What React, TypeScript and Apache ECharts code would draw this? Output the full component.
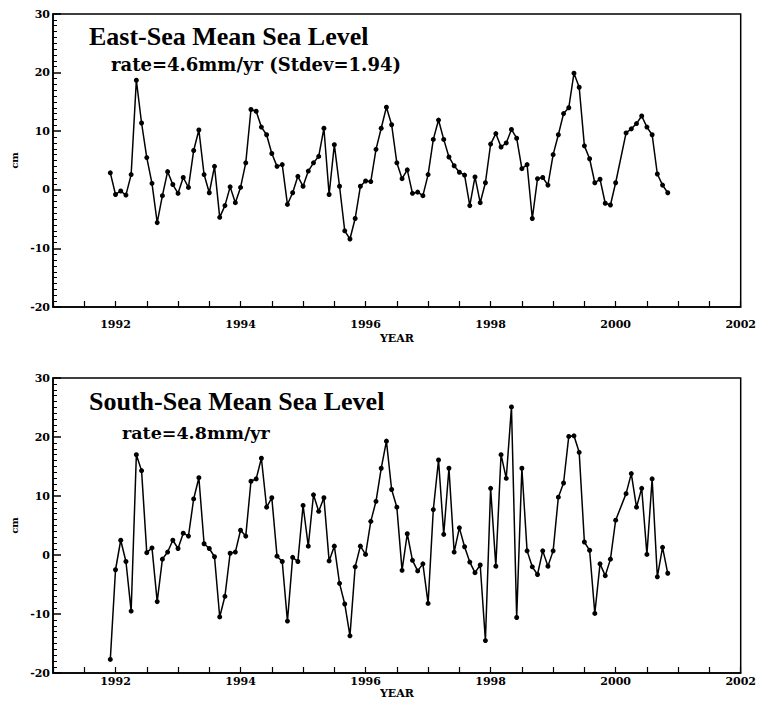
import React, { useEffect, useRef } from "react";
import * as echarts from "echarts";

// Monthly means, first month = Dec 1991; null = month with no data
const START_YEAR = 1991;
const START_MONTH = 11; // 0-based month index within START_YEAR (December)

const EAST_SEA: (number | null)[] = [
  2.9, -0.8, -0.2, -0.9, 2.6, 18.7, 11.4, 5.5, 1.1, -5.6,
  -1.0, 3.1, 0.9, -0.6, 2.1, 0.4, 6.7, 10.2, 2.6, -0.5,
  4.0, -4.7, -2.7, 0.5, -2.2, 0.4, 4.6,
  13.7, 13.4, 10.7, 9.4, 6.2, 4.0, 4.3, -2.5, -0.5, 2.3,
  0.6, 3.2, 4.6, 5.7, 10.5, -0.8, 7.7, 0.6, -7.0, -8.4,
  -4.9, 0.6, 1.5, 1.4, 6.9, 10.5, 14.1, 11.1,
  4.6, 1.9, 3.4, -0.6, -0.4, -1.0, 2.6, 8.6, 11.9, 8.6,
  5.6, 4.1, 3.0, 2.5, -2.7, 2.2, -2.2, 1.2, 7.8, 9.6,
  7.3, 8.0, 10.3, 8.8, 3.6, 4.3, -4.9,
  1.9, 2.1, 0.8, 6.0, 9.4, 13.0, 14.0, 19.9, 17.5, 7.5,
  5.3, 1.2, 1.8, -2.3, -2.6, 1.2, null, 9.7, 10.4, 11.3,
  12.6, 10.7, 9.4, 2.7, 0.8, -0.5,
];

const SOUTH_SEA: (number | null)[] = [
  -17.7, -2.5, 2.5, -1.1, -9.5, 17.0, 14.3, 0.4, 1.2, -7.9,
  -0.7, 0.5, 2.5, 1.1, 3.7, 3.2, 9.5, 13.1, 1.9, 1.1,
  -0.3, -10.5, -7.0, 0.3, 0.5, 4.2, 3.2, 12.5, 12.9, 16.4,
  8.1, 9.7, -0.2, -1.1, -11.2, -0.4, -1.1, 8.4, 1.5, 10.2,
  7.4, 9.7, -1.0, 1.5, -4.8, -8.3, -13.7, -2.0, 1.5, 0.1,
  5.7, 9.1, 14.7, 19.3, 11.1,
  8.1, -2.6, 3.6, -0.9, -2.7, -1.5, -8.2, 7.7, 16.1, 3.5,
  14.7, 0.5, 4.6, 1.4, -1.2, -3.0, -1.7, -14.5, 11.3, -1.9,
  17.0, 13.0, 25.1, -10.6, 14.7, 0.7, -2.0,
  -3.3, 0.7, -1.9, 0.7, 9.8, 12.2, 20.1, 20.2, 17.4, 2.2,
  0.8, -9.9, -1.5, -3.5, -0.7, 5.9, null, 10.4, 13.8, 8.1,
  11.3, 0.1, 12.9, -3.7, 1.3, -3.1,
];

const YEAR_TICKS = [1992, 1994, 1996, 1998, 2000, 2002];
const X_MIN = 1991;
const X_MAX = 2002;
const Y_MIN = -20;
const Y_MAX = 30;

const TITLES = [
  { main: "East-Sea Mean Sea Level", sub: "rate=4.6mm/yr (Stdev=1.94)" },
  { main: "South-Sea Mean Sea Level", sub: "rate=4.8mm/yr" },
];

// [time, value] pairs; months without data are skipped so the line joins across them
const toPairs = (vals: (number | null)[]) =>
  vals
    .map((v, i) => [START_YEAR + (START_MONTH + i) / 12, v] as [number, number | null])
    .filter((p) => p[1] !== null);

const NUM_FONT = "DejaVu Serif";

export default function App() {
  const ref = useRef<HTMLDivElement>(null);

  useEffect(() => {
    if (!ref.current) return;
    const chart = echarts.init(ref.current, null, { renderer: "svg" });

    const grids = [
      { left: 53, top: 14, width: 697, height: 293, show: true, borderColor: "#000", borderWidth: 1.5, backgroundColor: "transparent" },
      { left: 53, top: 378, width: 697, height: 295, show: true, borderColor: "#000", borderWidth: 1.5, backgroundColor: "transparent" },
    ];

    const labelMargins = [12, 3];
    const nameGaps = [26, 15];

    const xAxes = grids.map((_, g) => ({
      gridIndex: g,
      type: "value",
      min: X_MIN,
      max: X_MAX,
      interval: 0.5,
      name: "YEAR",
      nameLocation: "middle",
      nameGap: nameGaps[g],
      nameTextStyle: { fontFamily: NUM_FONT, fontWeight: "bold", fontSize: 11, color: "#000" },
      axisLine: { show: true, onZero: false, lineStyle: { color: "#000", width: 1.5 } },
      axisTick: { show: true, inside: true, length: 6, lineStyle: { color: "#000", width: 1.2 } },
      axisLabel: {
        show: true,
        margin: labelMargins[g],
        fontFamily: NUM_FONT,
        fontWeight: "bold",
        fontSize: 11,
        color: "#000",
        formatter: (v: number) => (YEAR_TICKS.indexOf(v) >= 0 ? String(v) : ""),
      },
      splitLine: { show: false },
    }));

    const yAxes = grids.map((_, g) => ({
      gridIndex: g,
      type: "value",
      min: Y_MIN,
      max: Y_MAX,
      interval: 10,
      name: "cm",
      nameLocation: "middle",
      nameGap: 30,
      nameTextStyle: { fontFamily: NUM_FONT, fontWeight: "bold", fontSize: 10, color: "#000" },
      axisLine: { show: true, onZero: false, lineStyle: { color: "#000", width: 1.5 } },
      axisTick: { show: true, inside: true, length: 8, lineStyle: { color: "#000", width: 1.5 } },
      minorTick: { show: true, splitNumber: 10, length: 4, lineStyle: { color: "#000", width: 1 } },
      axisLabel: {
        show: true,
        margin: 3,
        fontFamily: NUM_FONT,
        fontWeight: "bold",
        fontSize: 11,
        color: "#000",
        formatter: (v: number) => String(v),
      },
      splitLine: { show: false },
      minorSplitLine: { show: false },
    }));

    const seriesData = [EAST_SEA, SOUTH_SEA];

    const option: any = {
      animation: false,
      title: [
        {
          text: TITLES[0].main,
          left: 84,
          top: 18,
          textStyle: { fontFamily: "Liberation Serif", fontWeight: "bold", fontSize: 26, color: "#000" },
        },
        {
          text: TITLES[0].sub,
          left: 106,
          top: 50,
          textStyle: { fontFamily: NUM_FONT, fontWeight: "bold", fontSize: 18, color: "#000" },
        },
        {
          text: TITLES[1].main,
          left: 84,
          top: 383,
          textStyle: { fontFamily: "Liberation Serif", fontWeight: "bold", fontSize: 26, color: "#000" },
        },
        {
          text: TITLES[1].sub,
          left: 117,
          top: 419,
          textStyle: { fontFamily: NUM_FONT, fontWeight: "bold", fontSize: 17.5, color: "#000" },
        },
      ],
      grid: grids,
      xAxis: xAxes,
      yAxis: yAxes,
      series: seriesData.map((vals, g) => ({
        type: "line",
        xAxisIndex: g,
        yAxisIndex: g,
        data: toPairs(vals),
        symbol: "circle",
        symbolSize: 5,
        showSymbol: true,
        itemStyle: { color: "#000" },
        lineStyle: { color: "#000", width: 1.5 },
      })),
    };

    chart.setOption(option);
    return () => chart.dispose();
  }, []);

  return (
    <div
      ref={ref}
      style={{ position: "absolute", left: 0, top: 0, width: 759, height: 709 }}
    />
  );
}
